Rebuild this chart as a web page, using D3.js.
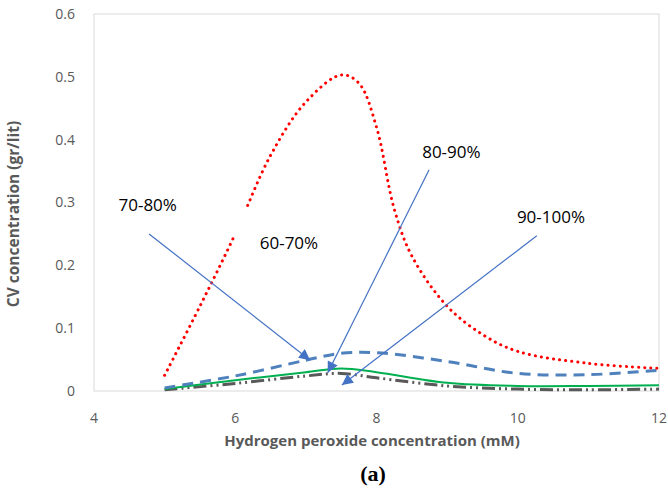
<!DOCTYPE html>
<html>
<head>
<meta charset="utf-8">
<script src="https://cdn.jsdelivr.net/npm/d3@7"></script>
<style>
  body { margin: 0; background: #fff; }
  svg { display: block; }
  text { font-family: "Open Sans", "Liberation Sans", sans-serif; }
</style>
</head>
<body>
<svg width="668" height="491"></svg>
<script>
// x positions (mM) shared by the lower series
var xRed = [5, 5.5, 6, 6.5, 7, 7.5, 7.75, 8, 8.25, 8.5, 9, 9.5, 10, 11, 12];
var red6070 = [0.025, 0.135, 0.25, 0.375, 0.46, 0.503, 0.49, 0.42, 0.29, 0.215, 0.135, 0.09, 0.063, 0.044, 0.036];

var xLow = [5, 6, 7, 7.5, 8, 9, 10, 11, 12];
var blue7080 = [0.005, 0.024, 0.049, 0.06, 0.061, 0.047, 0.028, 0.026, 0.033];
var green8090 = [0.003, 0.017, 0.03, 0.036, 0.03, 0.013, 0.008, 0.008, 0.009];
var gray90100 = [0.002, 0.012, 0.024, 0.028, 0.021, 0.008, 0.003, 0.002, 0.003];

var xTicks = [4, 6, 8, 10, 12];
var yTicks = [0, 0.1, 0.2, 0.3, 0.4, 0.5, 0.6];

// callout labels: text position and arrow (data units)
var labels = ["70-80%", "60-70%", "80-90%", "90-100%"];
var labelX = [4.76, 6.76, 9.06, 10.47];
var labelY = [0.296, 0.236, 0.38, 0.277];
var arrowFrom = [[4.78, 0.25], null, [8.745, 0.352], [10.27, 0.247]];
var arrowTo = [[7.06, 0.049], null, [7.31, 0.029], [7.51, 0.0095]];

var svg = d3.select("svg");
var margin = {left: 94, right: 9, top: 14, bottom: 100};
var W = 668, H = 491;

var x = d3.scaleLinear().domain([4, 12]).range([margin.left, W - margin.right]);
var y = d3.scaleLinear().domain([0, 0.6]).range([H - margin.bottom, margin.top]);

// plot frame
svg.append("rect")
    .attr("x", x(4)).attr("y", y(0.6))
    .attr("width", x(12) - x(4)).attr("height", y(0) - y(0.6))
    .attr("fill", "none").attr("stroke", "#d9d9d9").attr("stroke-width", 1);

// tick labels
svg.append("g").selectAll("text").data(yTicks).enter().append("text")
    .attr("x", x(4) - 19).attr("y", function(d) { return y(d); })
    .attr("dy", "0.35em").attr("text-anchor", "end")
    .attr("font-size", 14).attr("fill", "#595959")
    .text(function(d) { return d === 0 ? "0" : d3.format(".1f")(d); });

svg.append("g").selectAll("text").data(xTicks).enter().append("text")
    .attr("x", function(d) { return x(d); }).attr("y", 423)
    .attr("text-anchor", "middle")
    .attr("font-size", 14).attr("fill", "#595959")
    .text(function(d) { return d; });

// axis titles
svg.append("text")
    .attr("x", 372).attr("y", 446)
    .attr("text-anchor", "middle").attr("font-weight", "bold")
    .attr("font-size", 15).attr("fill", "#595959")
    .text("Hydrogen peroxide concentration (mM)");

svg.append("text")
    .attr("transform", "translate(19," + 214 + ") rotate(-90)")
    .attr("text-anchor", "middle").attr("font-weight", "bold")
    .attr("font-size", 15.5).attr("fill", "#595959")
    .text("CV concentration (gr/lit)");

svg.append("text")
    .attr("x", 373).attr("y", 481)
    .attr("text-anchor", "middle").attr("font-weight", "bold")
    .attr("font-size", 22).attr("fill", "#000")
    .style("font-family", "'Liberation Serif', 'DejaVu Serif', serif")
    .text("(a)");

// series
var line = d3.line()
    .x(function(d) { return x(d[0]); })
    .y(function(d) { return y(d[1]); })
    .curve(d3.curveCatmullRom.alpha(0.5));

function pairs(xs, ys) { return xs.map(function(v, i) { return [v, ys[i]]; }); }

var series = [
    {data: pairs(xLow, gray90100), color: "#595959", width: 3, dash: "13 4 2 4 2 4", cap: "butt"},
    {data: pairs(xLow, green8090), color: "#00b050", width: 2, dash: null, cap: "butt"},
    {data: pairs(xLow, blue7080), color: "#4f81bd", width: 3, dash: "11 7", cap: "butt"},
    {data: pairs(xRed, red6070), color: "#ff0000", width: 3, dash: "0.1 6", cap: "round"}
];

svg.append("g").selectAll("path").data(series).enter().append("path")
    .attr("d", function(d) { return line(d.data); })
    .attr("fill", "none")
    .attr("stroke", function(d) { return d.color; })
    .attr("stroke-width", function(d) { return d.width; })
    .attr("stroke-dasharray", function(d) { return d.dash; })
    .attr("stroke-linecap", function(d) { return d.cap; });

// small break in the red curve (hidden behind a text box in the original)
svg.append("rect")
    .attr("x", x(5.98)).attr("y", y(0.29))
    .attr("width", x(6.19) - x(5.98)).attr("height", y(0.245) - y(0.29))
    .attr("fill", "#fff");

// arrows
svg.append("defs").append("marker")
    .attr("id", "ah").attr("viewBox", "0 0 10 10")
    .attr("refX", 10).attr("refY", 5)
    .attr("markerWidth", 12).attr("markerHeight", 11)
    .attr("markerUnits", "userSpaceOnUse")
    .attr("orient", "auto")
  .append("path").attr("d", "M0,0L10,5L0,10Z").attr("fill", "#4472c4");

labels.forEach(function(t, i) {
    if (arrowFrom[i]) {
        svg.append("line")
            .attr("x1", x(arrowFrom[i][0])).attr("y1", y(arrowFrom[i][1]))
            .attr("x2", x(arrowTo[i][0])).attr("y2", y(arrowTo[i][1]))
            .attr("stroke", "#4472c4").attr("stroke-width", 1.2)
            .attr("marker-end", "url(#ah)");
    }
    svg.append("text")
        .attr("x", x(labelX[i])).attr("y", y(labelY[i]))
        .attr("dy", "0.35em").attr("text-anchor", "middle")
        .attr("font-size", 17).attr("fill", "#000")
        .text(t);
});
</script>
</body>
</html>
